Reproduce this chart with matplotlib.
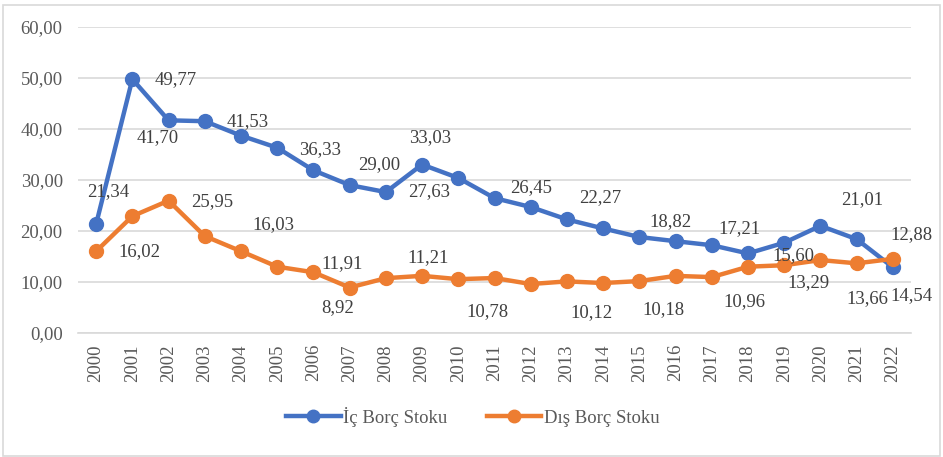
import matplotlib
matplotlib.use("Agg")
import matplotlib.pyplot as plt
from matplotlib.patches import Rectangle
from matplotlib.lines import Line2D

years = [str(y) for y in range(2000, 2023)]
ic_borc = [21.34, 49.77, 41.70, 41.53, 38.7, 36.33, 31.9, 29.00, 27.63, 33.03, 30.4, 26.45,
           24.7, 22.27, 20.5, 18.82, 18.0, 17.21, 15.60, 17.7, 21.01, 18.4, 12.88]
dis_borc = [16.02, 22.9, 25.95, 19.0, 16.03, 13.0, 11.91, 8.92, 10.75, 11.21, 10.55, 10.78,
            9.6, 10.12, 9.8, 10.18, 11.2, 10.96, 13.0, 13.29, 14.3, 13.66, 14.54]

# data labels: (point index, text)
ic_labels = [(0, "21,34"), (1, "49,77"), (2, "41,70"), (3, "41,53"), (5, "36,33"), (7, "29,00"),
             (8, "27,63"), (9, "33,03"), (11, "26,45"), (13, "22,27"), (15, "18,82"),
             (17, "17,21"), (18, "15,60"), (20, "21,01"), (22, "12,88")]
dis_labels = [(0, "16,02"), (2, "25,95"), (4, "16,03"), (6, "11,91"), (7, "8,92"), (9, "11,21"),
              (11, "10,78"), (13, "10,12"), (15, "10,18"), (17, "10,96"), (19, "13,29"),
              (21, "13,66"), (22, "14,54")]
# label offsets in pixels (dx right, dy down)
ic_off = [(12, -33), (43, 0), (-11, 17), (43, 0), (43, 2), (30, -21), (43, 0), (8, -27),
          (37, -11), (33, -22), (31, -15), (28, -17), (45, 2), (42, -26), (19, -33)]
dis_off = [(43, 0), (44, 1), (32, -27), (29, -9), (-12, 20), (6, -18), (-7, 34), (25, 31),
           (24, 29), (33, 24), (24, 17), (11, 35), (19, 37)]

W, H = 943, 457
fig = plt.figure(figsize=(W / 100, H / 100), dpi=100)
plt.rcParams['font.family'] = ['Liberation Serif', 'DejaVu Serif']
FS = 13.5

ax = fig.add_axes([78 / W, 1 - 333 / H, (911 - 78) / W, (333 - 27) / H])
blue = "#4472C4"
orange = "#ED7D31"
x = list(range(len(years)))
ax.plot(x, ic_borc, color=blue, lw=3.2, marker='o', ms=10, zorder=3, solid_capstyle='round')
ax.plot(x, dis_borc, color=orange, lw=3.2, marker='o', ms=10, zorder=3, solid_capstyle='round')

for (i, t), (dx, dy) in zip(ic_labels, ic_off):
    ax.annotate(t, (i, ic_borc[i]), xytext=(dx, -dy), textcoords='offset pixels',
                ha='center', va='center', fontsize=FS, color='#404040', zorder=4)
for (i, t), (dx, dy) in zip(dis_labels, dis_off):
    ax.annotate(t, (i, dis_borc[i]), xytext=(dx, -dy), textcoords='offset pixels',
                ha='center', va='center', fontsize=FS, color='#404040', zorder=4)

ax.set_xlim(-0.5, len(years) - 0.5)
ax.set_ylim(0, 60)
ax.set_yticks(range(0, 61, 10))
ax.set_yticklabels([f"{v},00" for v in range(0, 61, 10)])
ax.set_xticks(x)
ax.set_xticklabels(years, rotation=90)
ax.tick_params(axis='both', length=0, labelsize=FS, labelcolor='#595959')
ax.tick_params(axis='y', pad=11)
ax.tick_params(axis='x', pad=8)
ax.grid(axis='y', color='#D9D9D9', lw=1.2)
ax.set_axisbelow(True)
for s in ax.spines.values():
    s.set_visible(False)
ax.spines['bottom'].set_visible(True)
ax.spines['bottom'].set_color('#D9D9D9')
ax.spines['bottom'].set_linewidth(1.2)

handles = [Line2D([], [], color=blue, lw=3.2, marker='o', ms=9),
           Line2D([], [], color=orange, lw=3.2, marker='o', ms=9)]
fig.legend(handles, ["İç Borç Stoku", "Dış Borç Stoku"], loc='center',
           bbox_to_anchor=(473 / W, 1 - 417 / H), ncol=2, frameon=False,
           fontsize=FS, labelcolor='#595959', handlelength=2.9, columnspacing=2.1,
           handletextpad=0.15)

fig.patches.append(Rectangle((3 / W, 1 / H), (940 - 3) / W, (452 - 1) / H,
                             transform=fig.transFigure, fill=False, edgecolor='#D9D9D9', lw=1.2))

fig.savefig("out.png", dpi=100)
